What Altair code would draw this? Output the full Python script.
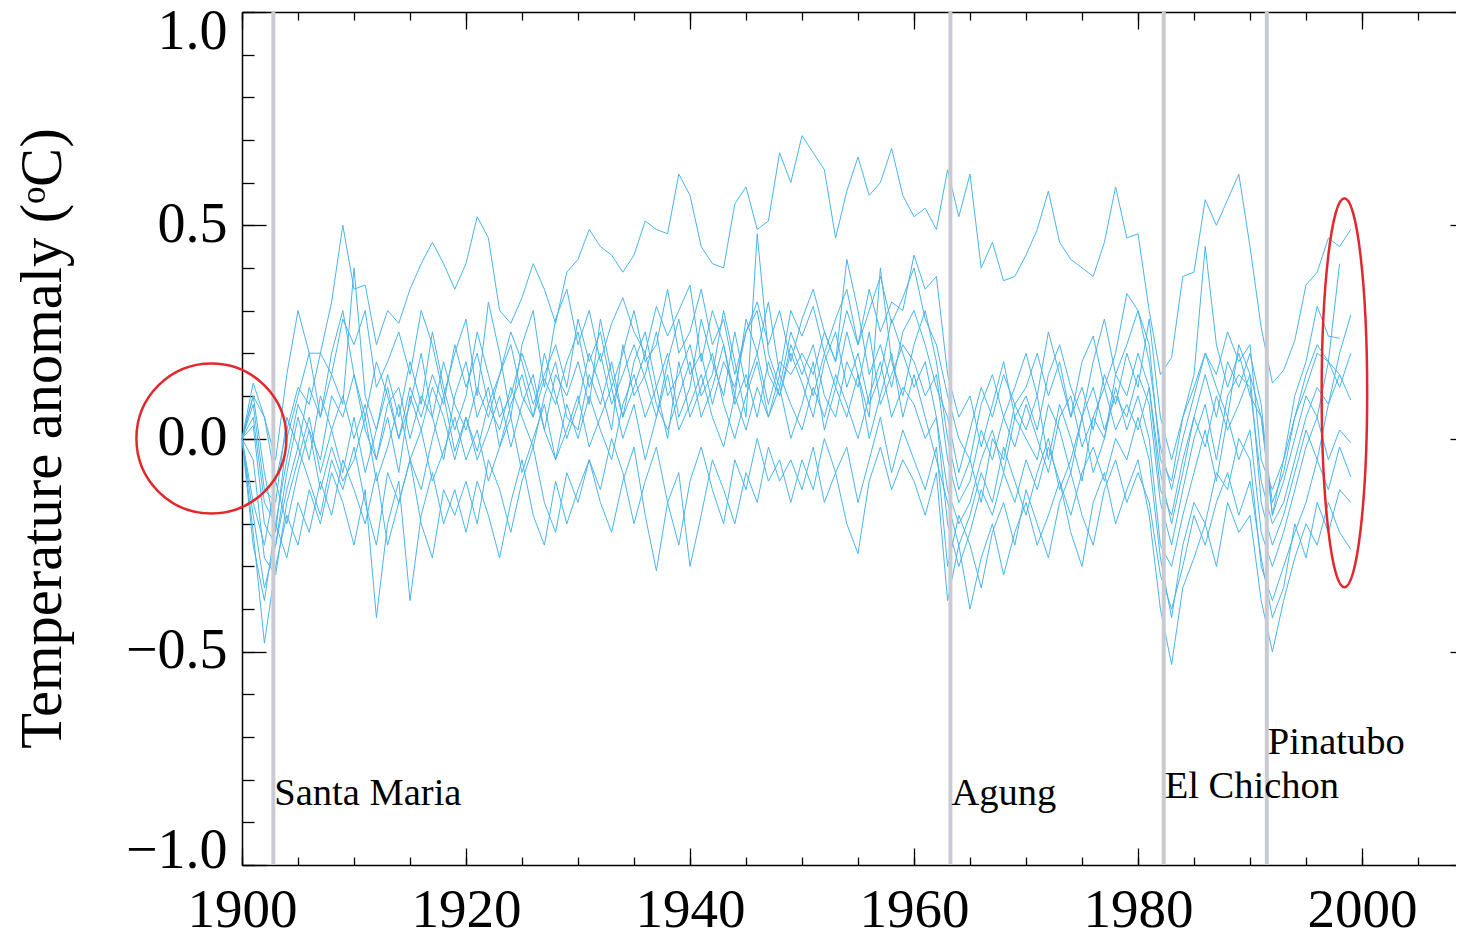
import altair as alt
import pandas as pd

# ---------------- data ----------------
years = list(range(1900, 2000))

member_top = [
    0.00, 0.10, 0.05, -0.05, 0.15, 0.30, 0.20, 0.20, 0.32, 0.50,
    0.35, 0.36, 0.22, 0.30, 0.27, 0.35, 0.41, 0.46, 0.41, 0.35,
    0.41, 0.52, 0.47, 0.30, 0.27, 0.33, 0.41, 0.35, 0.27, 0.39,
    0.42, 0.49, 0.45, 0.43, 0.39, 0.43, 0.51, 0.49, 0.48, 0.62,
    0.57, 0.45, 0.41, 0.40, 0.55, 0.59, 0.49, 0.51, 0.67, 0.60,
    0.71, 0.67, 0.63, 0.47, 0.58, 0.66, 0.57, 0.60, 0.68, 0.57,
    0.52, 0.54, 0.49, 0.63, 0.52, 0.62, 0.40, 0.46, 0.37, 0.38,
    0.43, 0.49, 0.58, 0.46, 0.42, 0.40, 0.38, 0.46, 0.59, 0.47,
    0.48, 0.30, 0.15, 0.19, 0.38, 0.39, 0.56, 0.50, 0.56, 0.62,
    0.45, 0.26, 0.13, 0.16, 0.23, 0.36, 0.39, 0.47, 0.45, 0.49,
]
member_01 = [
    0.00, 0.13, 0.05, -0.10, 0.02, 0.12, 0.08, 0.20, 0.15, 0.28,
    0.22, 0.30, 0.12, 0.18, 0.25, 0.15, 0.30, 0.22, 0.10, 0.20,
    0.28, 0.10, 0.32, 0.20, 0.05, 0.22, 0.30, 0.12, 0.28, 0.35,
    0.22, 0.30, 0.18, 0.27, 0.33, 0.25, 0.20, 0.31, 0.24, 0.30,
    0.36, 0.18, 0.30, 0.22, 0.10, 0.28, 0.20, 0.32, 0.15, 0.30,
    0.24, 0.31, 0.20, 0.28, 0.35, 0.22, 0.30, 0.38, 0.27, 0.33,
    0.40, 0.28, 0.22, 0.10, 0.00, -0.05, 0.08, 0.15, 0.05, 0.12,
    0.20, 0.10, 0.25, 0.15, 0.05, 0.18, 0.24, 0.12, 0.20, 0.34,
    0.30, 0.22, -0.05, -0.10, 0.05, 0.12, 0.20, 0.15, 0.25, 0.18,
    0.22, -0.05, -0.12, -0.05, 0.05, 0.15, 0.22, 0.18, 0.41, None,
]
member_02 = [
    0.00, 0.05, -0.15, -0.20, -0.05, 0.08, 0.02, -0.05, 0.10, 0.05,
    0.15, 0.02, -0.05, 0.08, 0.12, 0.00, 0.10, 0.05, 0.18, 0.08,
    0.02, 0.12, 0.05, 0.15, 0.22, 0.10, 0.05, 0.14, 0.08, 0.18,
    0.25, 0.12, 0.20, 0.08, 0.15, 0.22, 0.14, 0.05, 0.18, 0.28,
    0.15, 0.20, 0.08, 0.18, 0.12, 0.25, 0.30, 0.15, 0.10, 0.20,
    0.13, 0.05, 0.18, 0.25, 0.12, 0.20, 0.08, 0.15, 0.28, 0.20,
    0.12, 0.18, 0.05, -0.12, -0.20, -0.15, -0.05, 0.02, -0.08, 0.05,
    0.00, -0.05, 0.08, 0.02, -0.08, 0.05, 0.12, 0.02, 0.10, 0.05,
    0.15, 0.08, -0.15, -0.25, -0.12, 0.00, 0.08, -0.05, 0.10, 0.15,
    0.12, -0.10, -0.20, -0.15, -0.05, 0.05, 0.12, 0.08, 0.20, 0.29,
]
member_03 = [
    0.00, -0.18, -0.35, -0.25, -0.12, -0.02, -0.10, -0.18, -0.05, -0.12,
    -0.02, -0.15, -0.25, -0.08, -0.15, -0.05, 0.02, -0.10, -0.03, 0.05,
    -0.05, 0.02, -0.10, -0.02, 0.05, -0.08, 0.00, 0.08, -0.05, 0.02,
    0.10, -0.02, 0.05, 0.12, 0.00, 0.08, -0.05, 0.05, 0.15, 0.02,
    0.08, 0.15, 0.05, -0.02, 0.10, 0.02, 0.12, 0.05, 0.15, 0.08,
    0.02, 0.12, 0.05, 0.15, 0.08, 0.00, 0.10, 0.18, 0.05, 0.12,
    0.08, 0.00, 0.05, -0.20, -0.30, -0.22, -0.12, -0.18, -0.08, -0.15,
    -0.05, -0.12, -0.02, -0.10, -0.18, -0.08, -0.02, -0.10, 0.00, -0.05,
    0.05, -0.05, -0.28, -0.42, -0.25, -0.15, -0.20, -0.08, -0.12, 0.00,
    -0.05, -0.30, -0.38, -0.30, -0.22, -0.15, -0.05, -0.12, -0.02, -0.09,
]
member_04 = [
    0.00, -0.05, -0.28, -0.32, -0.15, -0.05, 0.05, -0.08, 0.02, 0.10,
    0.00, 0.08, -0.05, 0.05, -0.08, 0.10, 0.02, 0.12, 0.05, -0.05,
    0.05, -0.03, 0.08, 0.02, 0.12, 0.05, -0.02, 0.10, 0.18, 0.05,
    0.02, 0.15, 0.08, 0.18, 0.05, 0.12, 0.20, 0.08, 0.02, 0.10,
    0.18, 0.05, 0.12, 0.22, 0.08, 0.15, 0.05, 0.18, 0.10, 0.22,
    0.15, 0.22, 0.10, 0.05, 0.18, 0.12, 0.25, 0.08, 0.15, 0.22,
    0.18, 0.10, 0.15, -0.05, -0.15, -0.10, 0.02, -0.05, 0.05, -0.02,
    0.08, 0.00, -0.08, 0.05, 0.10, -0.02, 0.05, 0.12, 0.02, 0.08,
    0.02, 0.12, -0.12, -0.18, -0.05, 0.05, -0.02, 0.10, 0.02, 0.08,
    0.15, -0.15, -0.25, -0.18, -0.08, 0.02, -0.05, 0.08, 0.15, 0.09,
]
member_05 = [
    0.00, -0.22, -0.48, -0.30, -0.18, -0.25, -0.12, -0.20, -0.08, -0.15,
    -0.25, -0.12, -0.42, -0.20, -0.10, -0.38, -0.18, -0.08, -0.20, -0.12,
    -0.22, -0.10, -0.18, -0.28, -0.15, -0.05, -0.18, -0.25, -0.10, -0.20,
    -0.12, -0.05, -0.15, -0.22, -0.10, -0.02, -0.18, -0.31, -0.15, -0.08,
    -0.30, -0.18, -0.05, -0.12, -0.20, -0.08, -0.15, -0.02, -0.10, -0.05,
    -0.12, -0.02, -0.15, -0.08, -0.20, -0.27, -0.10, -0.02, -0.12, -0.05,
    -0.10, -0.18, -0.08, -0.38, -0.25, -0.40, -0.28, -0.20, -0.32, -0.22,
    -0.15, -0.25, -0.18, -0.10, -0.22, -0.30, -0.15, -0.08, -0.20, -0.12,
    -0.05, -0.18, -0.40, -0.53, -0.35, -0.28, -0.20, -0.30, -0.15, -0.22,
    -0.18, -0.38, -0.50, -0.38, -0.28, -0.20, -0.25, -0.15, -0.22, -0.26,
]
member_06 = [
    0.00, 0.10, -0.08, -0.22, 0.00, 0.10, 0.20, 0.05, 0.15, 0.08,
    0.40, 0.10, 0.02, 0.15, 0.05, 0.18, 0.08, 0.25, 0.12, 0.02,
    0.10, 0.25, 0.15, 0.05, 0.10, 0.20, 0.12, 0.02, 0.15, 0.10,
    0.18, 0.08, 0.28, 0.15, 0.05, 0.18, 0.25, 0.12, 0.20, 0.05,
    0.12, 0.28, 0.18, 0.10, 0.25, 0.12, 0.20, 0.08, 0.18, 0.15,
    0.20, 0.15, 0.25, 0.18, 0.42, 0.30, 0.15, 0.22, 0.12, 0.25,
    0.30, 0.22, 0.12, 0.05, -0.08, 0.02, 0.12, 0.05, 0.15, 0.08,
    0.12, 0.20, 0.10, 0.18, 0.05, 0.12, 0.02, 0.15, 0.08, 0.20,
    0.12, 0.28, 0.05, -0.05, 0.05, 0.15, 0.45, 0.22, 0.12, 0.20,
    0.10, 0.05, -0.15, -0.08, 0.05, 0.12, 0.20, 0.18, 0.15, None,
]
member_07 = [
    0.00, -0.15, -0.25, -0.10, -0.20, -0.08, 0.02, -0.12, -0.02, -0.10,
    -0.05, 0.05, -0.10, -0.02, 0.08, -0.05, -0.12, 0.00, 0.10, -0.03,
    0.05, -0.05, 0.02, 0.10, -0.02, 0.08, 0.15, 0.02, -0.05, 0.08,
    0.00, 0.10, 0.02, -0.05, 0.08, 0.15, 0.05, 0.12, 0.00, 0.18,
    0.05, 0.12, 0.20, 0.08, 0.00, 0.10, 0.18, 0.05, 0.12, 0.00,
    0.08, 0.18, 0.02, 0.12, 0.05, 0.15, 0.00, 0.10, 0.20, 0.05,
    0.15, 0.05, -0.05, -0.15, -0.25, -0.18, -0.08, -0.15, -0.02, -0.10,
    -0.18, -0.08, 0.00, -0.12, -0.05, 0.05, -0.08, 0.00, 0.12, 0.02,
    0.10, 0.00, -0.25, -0.30, -0.18, -0.08, 0.02, -0.10, 0.05, -0.05,
    0.02, -0.22, -0.30, -0.22, -0.12, -0.02, 0.05, -0.05, 0.02, -0.01,
]
member_08 = [
    0.00, 0.03, -0.20, -0.25, -0.08, 0.05, -0.05, 0.10, 0.02, -0.08,
    0.05, -0.08, 0.02, 0.12, 0.00, 0.08, 0.20, 0.05, -0.05, 0.10,
    0.18, 0.05, 0.12, -0.02, 0.08, 0.15, 0.05, 0.20, 0.10, 0.00,
    0.08, 0.20, 0.12, 0.02, 0.22, 0.10, 0.15, 0.25, 0.10, 0.15,
    0.22, 0.10, 0.15, 0.30, 0.18, 0.05, 0.48, 0.20, 0.12, 0.25,
    0.18, 0.10, 0.20, 0.12, 0.25, 0.15, 0.05, 0.40, 0.18, 0.10,
    0.22, 0.30, 0.18, 0.00, -0.12, -0.05, -0.15, 0.00, -0.05, 0.08,
    0.02, 0.10, -0.05, 0.08, 0.00, -0.10, 0.05, 0.00, 0.15, 0.10,
    0.20, 0.12, -0.08, -0.20, -0.08, 0.05, 0.15, 0.05, 0.18, 0.12,
    0.20, 0.08, -0.18, -0.10, 0.00, 0.10, 0.05, 0.18, 0.12, 0.20,
]
member_09 = [
    0.00, -0.25, -0.38, -0.20, -0.28, -0.15, -0.22, -0.10, -0.18, -0.05,
    -0.12, -0.20, -0.08, -0.25, -0.15, -0.05, -0.20, -0.28, -0.12, -0.18,
    -0.10, -0.20, -0.05, -0.12, -0.22, -0.10, -0.02, -0.15, -0.22, -0.08,
    -0.15, -0.05, -0.12, 0.00, -0.08, -0.20, -0.10, -0.02, -0.15, -0.25,
    -0.10, -0.02, -0.12, -0.20, -0.05, -0.12, 0.00, -0.10, -0.05, -0.15,
    -0.05, -0.12, 0.00, -0.08, -0.02, -0.15, -0.05, 0.05, -0.08, 0.02,
    -0.05, -0.12, -0.02, -0.30, -0.18, -0.25, -0.35, -0.22, -0.15, -0.25,
    -0.12, -0.20, -0.28, -0.15, -0.08, -0.18, -0.25, -0.12, -0.05, -0.15,
    -0.08, -0.15, -0.32, -0.40, -0.30, -0.18, -0.25, -0.15, -0.08, -0.18,
    -0.10, -0.28, -0.42, -0.35, -0.20, -0.28, -0.15, -0.22, -0.12, -0.15,
]
member_10 = [
    0.00, 0.08, -0.12, -0.15, 0.05, -0.02, 0.12, 0.05, 0.20, 0.30,
    0.15, 0.05, 0.18, 0.10, 0.00, 0.12, 0.05, 0.15, 0.08, 0.22,
    0.12, 0.20, 0.08, 0.15, 0.25, 0.18, 0.08, 0.15, 0.22, 0.12,
    0.28, 0.18, 0.25, 0.12, 0.20, 0.30, 0.18, 0.22, 0.35, 0.20,
    0.25, 0.35, 0.22, 0.28, 0.15, 0.25, 0.32, 0.22, 0.30, 0.18,
    0.28, 0.35, 0.25, 0.18, 0.30, 0.22, 0.35, 0.25, 0.32, 0.30,
    0.43, 0.35, 0.38, 0.15, 0.05, 0.10, -0.02, 0.08, 0.18, 0.05,
    0.10, 0.02, 0.15, 0.22, 0.12, 0.05, 0.18, 0.28, 0.15, 0.22,
    0.30, 0.18, -0.02, -0.12, 0.00, 0.10, 0.20, 0.12, 0.05, 0.22,
    0.15, 0.05, -0.18, -0.05, 0.10, 0.18, 0.31, 0.24, 0.235, None,
]

members = {
    "top": member_top, "m01": member_01, "m02": member_02, "m03": member_03,
    "m04": member_04, "m05": member_05, "m06": member_06, "m07": member_07,
    "m08": member_08, "m09": member_09, "m10": member_10,
}

volcano_names = ["Santa Maria", "Agung", "El Chichon", "Pinatubo"]
volcano_years = [1902.8, 1963.25, 1982.3, 1991.5]
volcano_label_y = [-0.860, -0.860, -0.844, -0.739]

# annotation ellipses (centre in data units)
circle_x = [1897.27]
circle_y = [0.0]
ellipse_x = [1998.43]
ellipse_y = [0.107]

x_label_values = [1900, 1920, 1940, 1960, 1980, 2000]
x_major_ticks = [1900, 1920, 1940, 1960, 1980, 2000]
x_minor_ticks = [1900, 1905, 1910, 1915, 1920, 1925, 1930, 1935, 1940, 1945, 1950,
                 1955, 1960, 1965, 1970, 1975, 1980, 1985, 1990, 1995, 2000, 2005, 2010]
y_major_ticks = [-1.0, -0.5, 0.0, 0.5, 1.0]
y_minor_ticks = [-1.0, -0.9, -0.8, -0.7, -0.6, -0.5, -0.4, -0.3, -0.2, -0.1, 0.0,
                 0.1, 0.2, 0.3, 0.4, 0.5, 0.6, 0.7, 0.8, 0.9, 1.0]

# ---------------- tables ----------------
rows = []
for name, vals in members.items():
    for yr, v in zip(years, vals):
        if v is not None:
            rows.append({"year": yr, "value": v, "member": name})
df = pd.DataFrame(rows)

df_volc = pd.DataFrame({"year": volcano_years, "name": volcano_names, "ly": volcano_label_y})
df_circle = pd.DataFrame({"year": circle_x, "value": circle_y})
df_ellipse = pd.DataFrame({"year": ellipse_x, "value": ellipse_y})

# ---------------- style ----------------
VIEW_W = 1214          # visible part of the plot (page is cut at the right)
RANGE_W = 1232         # full x-range 1900..2010
H = 853
FONT = "Liberation Serif"
LINE_COLOR = "#4ab5ea"
GREY = "#cacad2"
RED = "#e1282c"

xs = alt.Scale(domain=[1900, 2010], range=[0, RANGE_W], nice=False, zero=False)
ys = alt.Scale(domain=[-1, 1], nice=False, zero=False)


def tick_axis(orient, offset, values, size, domain=False):
    return alt.Axis(orient=orient, offset=offset, values=values, tickSize=size,
                    ticks=True, labels=False, domain=domain, domainColor="black",
                    domainWidth=1.5, grid=False, tickColor="black", tickWidth=1.3)


lines = alt.Chart(df).mark_line(color=LINE_COLOR, strokeWidth=1).encode(
    x=alt.X("year:Q", scale=xs, title=None,
            axis=alt.Axis(orient="bottom", values=x_label_values, format="d",
                          ticks=False, tickSize=0, domain=True, domainColor="black",
                          domainWidth=1.5, grid=False, labelFlush=False,
                          labelPadding=18, labelFont=FONT, labelFontSize=55,
                          labelColor="black")),
    y=alt.Y("value:Q", scale=ys,
            axis=alt.Axis(orient="left", values=y_major_ticks, format=".1f",
                          ticks=False, tickSize=0, domain=True, domainColor="black",
                          domainWidth=1.5, grid=False, labelFlush=False,
                          labelOffset={"condition": [
                              {"test": "datum.value > 0.9", "value": 19},
                              {"test": "datum.value < -0.9", "value": -15}],
                              "value": -1},
                          labelPadding=15, labelFont=FONT, labelFontSize=56,
                          labelColor="black",
                          title="Temperature anomaly (\u1d52C)",
                          titleFont=FONT, titleFontSize=58.5, titleFontWeight="normal",
                          titleColor="black", titleAngle=270, titleAlign="center",
                          titleBaseline="alphabetic", titleX=-182, titleY=426)),
    detail="member:N",
)

rules = alt.Chart(df_volc).mark_rule(color=GREY, strokeWidth=4).encode(
    x=alt.X("year:Q", scale=xs, title=None, axis=tick_axis("top", -H, x_major_ticks, 17)),
)

labels = alt.Chart(df_volc).mark_text(
    align="left", baseline="alphabetic", font=FONT, fontSize=38.5, dx=1, color="black"
).encode(
    x=alt.X("year:Q", scale=xs, title=None, axis=tick_axis("top", -H, x_minor_ticks, 8)),
    y=alt.Y("ly:Q", scale=ys, title=None, axis=tick_axis("right", -VIEW_W, y_major_ticks, 24)),
    text="name:N",
)

circle = alt.Chart(df_circle).mark_point(
    shape="circle", size=22500, filled=False, stroke=RED, strokeWidth=2.5, opacity=1
).encode(
    x=alt.X("year:Q", scale=xs, title=None,
            axis=tick_axis("bottom", -H, x_major_ticks, 17, domain=True)),
    y=alt.Y("value:Q", scale=ys, title=None, axis=tick_axis("right", -VIEW_W, y_minor_ticks, 12)),
)

ellipse_path = ("M0,-1 C0.0646,-1 0.117,-0.5523 0.117,0 C0.117,0.5523 0.0646,1 0,1 "
                "C-0.0646,1 -0.117,0.5523 -0.117,0 C-0.117,-0.5523 -0.0646,-1 0,-1 Z")
ellipse = alt.Chart(df_ellipse).mark_point(
    shape=ellipse_path, size=151321, filled=False, stroke=RED, strokeWidth=2.5, opacity=1
).encode(
    x=alt.X("year:Q", scale=xs, title=None, axis=tick_axis("bottom", -H, x_minor_ticks, 8)),
    y=alt.Y("value:Q", scale=ys, title=None, axis=tick_axis("left", -RANGE_W, y_major_ticks, 24)),
)

dummy = alt.Chart(df_volc).mark_point(opacity=0).encode(
    x=alt.X("year:Q", scale=xs, title=None, axis=None),
    y=alt.Y("ly:Q", scale=ys, title=None, axis=tick_axis("left", -RANGE_W, y_minor_ticks, 12)),
)

chart = alt.layer(lines, rules, labels, circle, ellipse, dummy).resolve_axis(
    x="independent", y="independent"
).properties(
    width=VIEW_W, height=H,
    autosize=alt.AutoSizeParams(type="none"),
    padding={"left": 234, "top": 4, "right": 0, "bottom": 67},
).configure_view(
    strokeWidth=0
).configure(background="white")

chart.save("out.html", embed_options={"renderer": "svg", "actions": False})
